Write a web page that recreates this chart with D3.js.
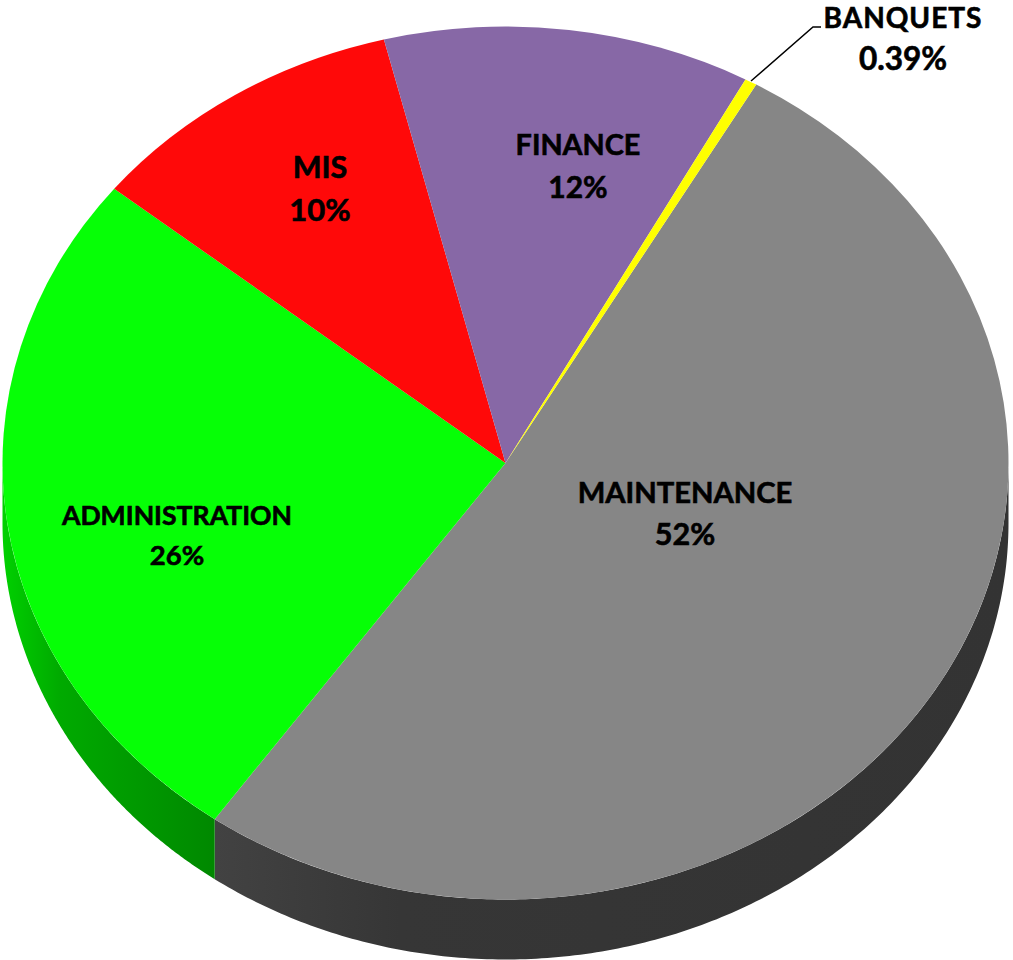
<!doctype html>
<html>
	<head>
		<meta charset="utf-8">
		<style type="text/css">
			html, body { margin: 0; padding: 0; background: #fff; }
			svg { display: block; }
			text { font-family: Lato, "Open Sans", sans-serif; font-weight: 700; fill: #000; stroke: #000; stroke-width: 0.6px; text-anchor: middle; }
		</style>
		<script src="https://d3js.org/d3.v7.min.js"></script>
	</head>
	<body>
		<svg width="1013" height="960"></svg>
		<script type="text/javascript">
			var categories = ["MAINTENANCE", "ADMINISTRATION", "MIS", "FINANCE", "BANQUETS"];
			var shares = [51.5, 26, 10.3, 11.8, 0.39];
			var shareLabels = ["52%", "26%", "10%", "12%", "0.39%"];
			var topColors = ["#868686", "#06ff06", "#ff0909", "#8768a6", "#ffff00"];

			var svg = d3.select("svg");
			var cx = 505.5, cy = 463, rx = 503, ry = 436.5, depth = 60;
			var firstAngle = 29.9 * Math.PI / 180;

			var pie = d3.pie().sort(null)
				.startAngle(firstAngle)
				.endAngle(firstAngle + 2 * Math.PI);
			var slices = pie(shares);

			// wall shading runs left to right, only the two front slices show it
			var wallStops = {
				"MAINTENANCE": [[216, "#424242"], [400, "#363636"], [1009, "#333333"]],
				"ADMINISTRATION": [[3, "#00d000"], [60, "#00aa00"], [216, "#008800"]]
			};
			var defs = svg.append("defs");
			Object.keys(wallStops).forEach(function(name) {
				var grad = defs.append("linearGradient")
					.attr("id", "wall-" + name)
					.attr("gradientUnits", "userSpaceOnUse")
					.attr("x1", 0).attr("x2", 1013).attr("y1", 0).attr("y2", 0);
				wallStops[name].forEach(function(s) {
					grad.append("stop").attr("offset", s[0] / 1013).attr("stop-color", s[1]);
				});
			});

			var wallArea = d3.area()
				.x(function(a) { return cx + rx * Math.sin(a); })
				.y0(function(a) { return cy - ry * Math.cos(a); })
				.y1(function(a) { return cy - ry * Math.cos(a) + depth; });

			// only the part of the rim between 90 and 270 degrees faces the viewer
			svg.append("g").attr("class", "walls")
				.selectAll("path")
				.data(slices.filter(function(d) { return wallStops[categories[d.index]]; }))
				.enter()
				.append("path")
				.attr("d", function(d) {
					var a0 = Math.max(d.startAngle, Math.PI / 2),
						a1 = Math.min(d.endAngle, 3 * Math.PI / 2);
					var n = 200;
					return wallArea(d3.range(n + 1).map(function(i) { return a0 + (a1 - a0) * i / n; }));
				})
				.style("fill", function(d) { return "url(#wall-" + categories[d.index] + ")"; });

			var arc = d3.arc().innerRadius(0).outerRadius(rx);

			svg.append("g").attr("class", "slices")
				.attr("transform", "translate(" + cx + "," + cy + ") scale(1," + (ry / rx) + ")")
				.selectAll("path")
				.data(slices)
				.enter()
				.append("path")
				.attr("d", arc)
				.style("fill", function(d) { return topColors[d.index]; });

			// leader for the thin slice
			svg.append("path")
				.attr("d", d3.line()([[751, 81], [813, 27], [821, 27]]))
				.style("fill", "none")
				.style("stroke", "#000")
				.style("stroke-width", 1.5);

			// label anchors, in category order: x, name baseline, share baseline, name size, share size, name spacing
			var labelSpots = [
				[685, 503, 545, 29.2, 30.5, 0],
				[177, 525, 565, 26.6, 27.5, 0],
				[320, 178, 221, 30.5, 31, 0],
				[578, 155, 198, 28.8, 30, 0],
				[903, 28, 70, 28, 31.5, 1]
			];
			var labels = svg.append("g").attr("class", "labels")
				.selectAll("g")
				.data(categories)
				.enter()
				.append("g");
			labels.append("text")
				.attr("x", function(d, i) { return labelSpots[i][0]; })
				.attr("y", function(d, i) { return labelSpots[i][1]; })
				.style("font-size", function(d, i) { return labelSpots[i][3] + "px"; })
				.style("letter-spacing", function(d, i) { return labelSpots[i][5] + "px"; })
				.text(function(d) { return d; });
			labels.append("text")
				.attr("x", function(d, i) { return labelSpots[i][0]; })
				.attr("y", function(d, i) { return labelSpots[i][2]; })
				.style("font-size", function(d, i) { return labelSpots[i][4] + "px"; })
				.text(function(d, i) { return shareLabels[i]; });
		</script>
	</body>
</html>
